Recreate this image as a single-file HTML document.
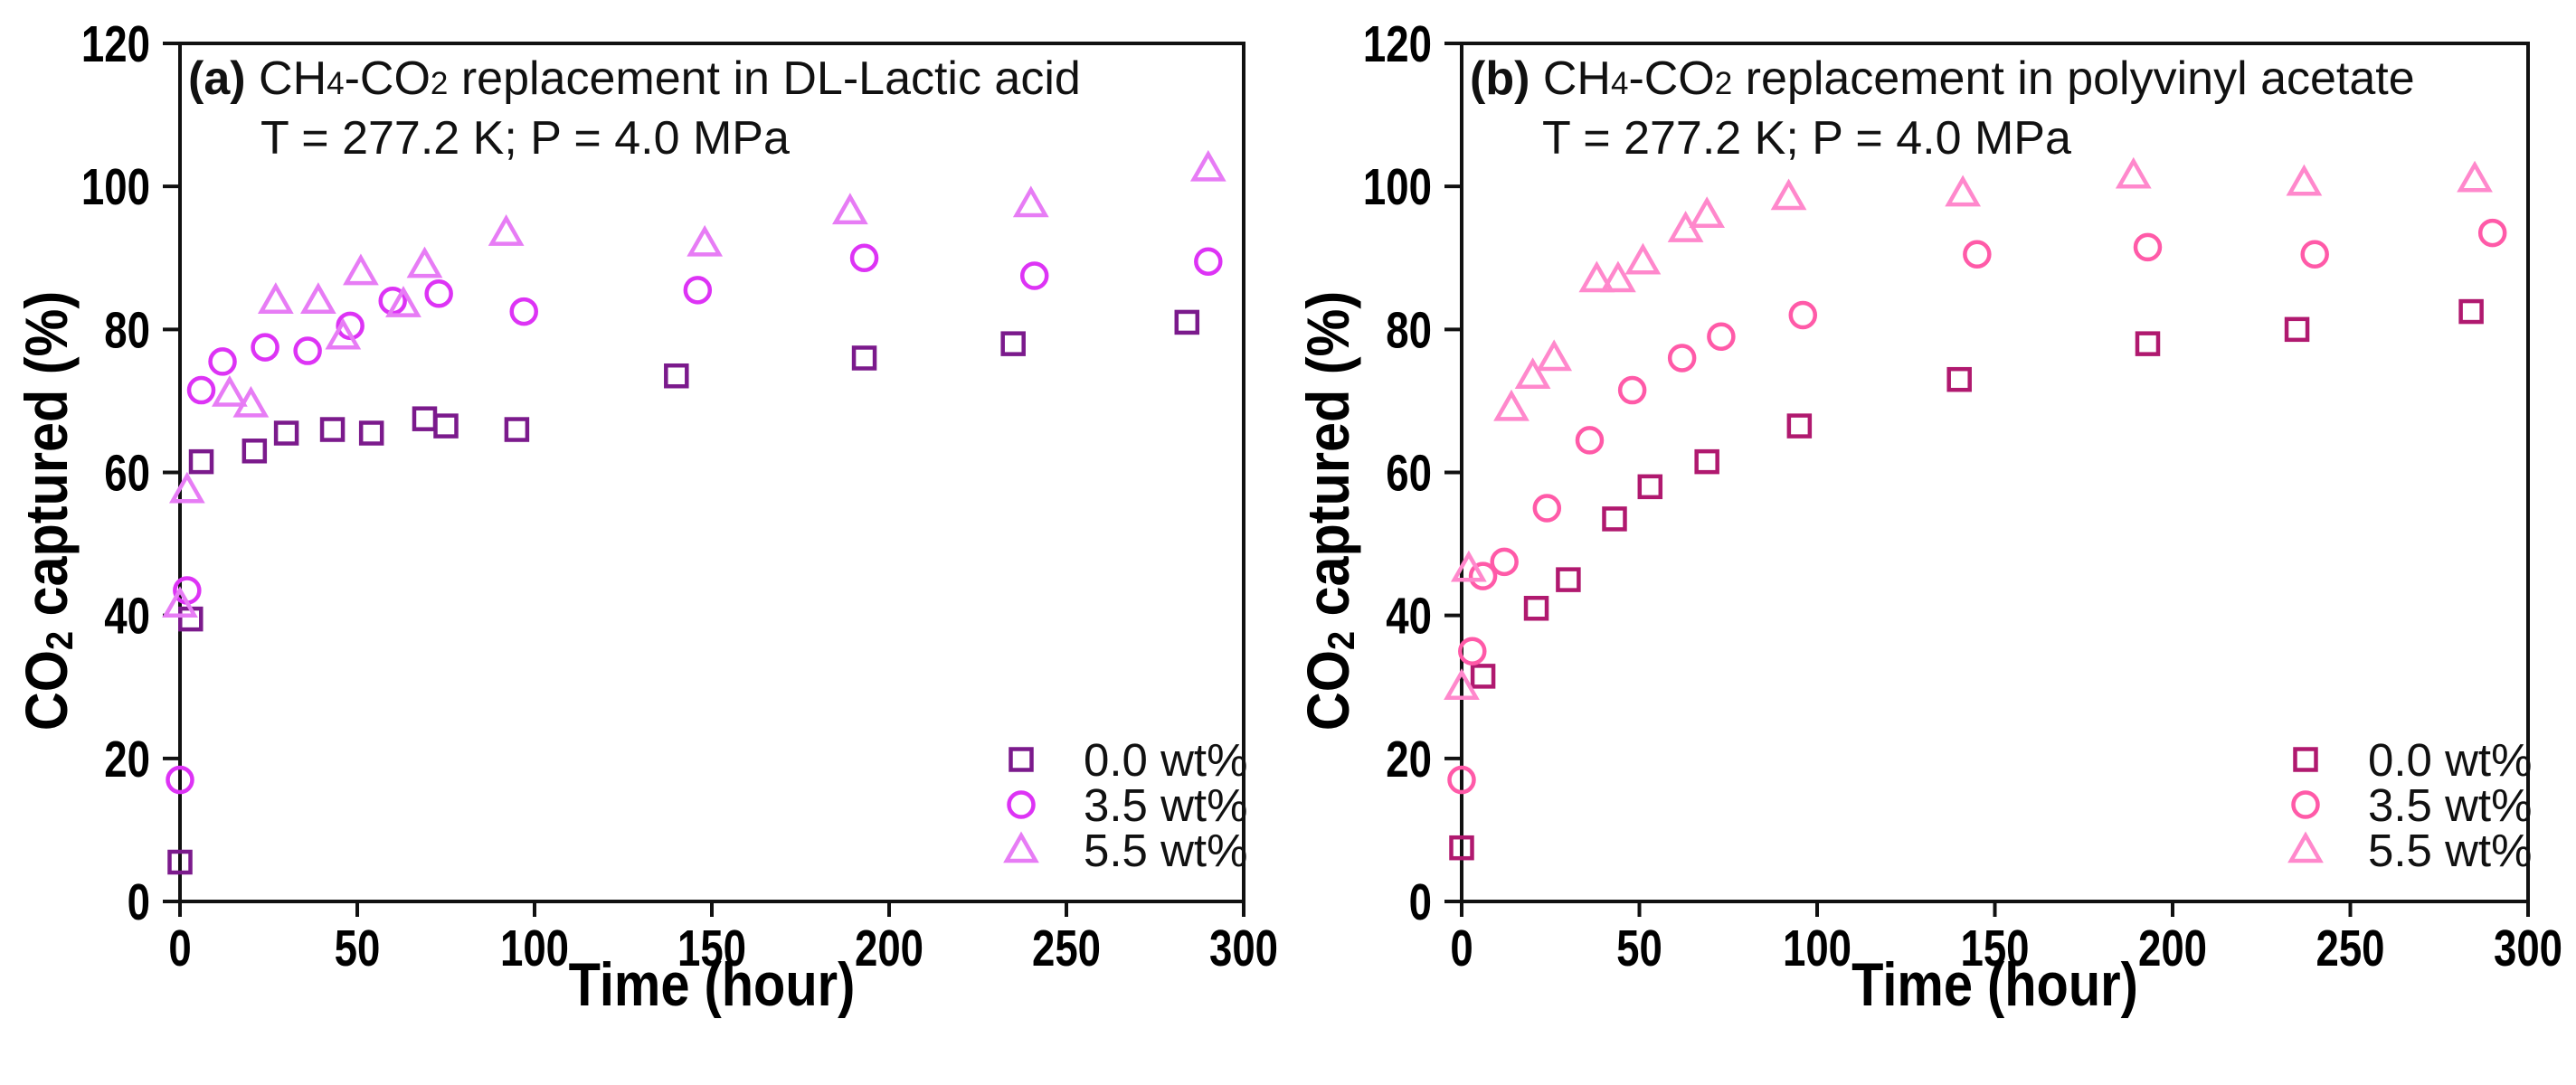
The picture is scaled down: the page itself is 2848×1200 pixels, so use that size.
<!DOCTYPE html>
<html><head><meta charset="utf-8"><style>
html,body{margin:0;padding:0;background:#fff;}
svg{display:block;font-family:"Liberation Sans",Arial,sans-serif;}
</style></head><body>
<svg id="fig" width="2848" height="1200" viewBox="0 0 2848 1200" xmlns="http://www.w3.org/2000/svg"></svg>
<script>
const xTicks=[0,50,100,150,200,250,300];
const yTicks=[0,20,40,60,80,100,120];
const legendLabels=["0.0 wt%","3.5 wt%","5.5 wt%"];
// Panel (a)
const aSqT=[0,3,6,21,30,43,54,69,75,95,140,193,235,284];
const aSqV=[5.5,39.5,61.5,63,65.5,66,65.5,67.5,66.5,66,73.5,76,78,81];
const aCiT=[0,2,6,12,24,36,48,60,73,97,146,193,241,290];
const aCiV=[17,43.5,71.5,75.5,77.5,77,80.5,84,85,82.5,85.5,90,87.5,89.5];
const aTrT=[0,2,14,20,27,39,46,51,63,69,92,148,189,240,290];
const aTrV=[41.5,57.5,71,69.5,84,84,79,88,83.5,89,93.5,92,96.5,97.5,102.5];
// Panel (b)
const bSqT=[0,6,21,30,43,53,69,95,140,193,235,284];
const bSqV=[7.5,31.5,41,45,53.5,58,61.5,66.5,73,78,80,82.5];
const bCiT=[0,3,6,12,24,36,48,62,73,96,145,193,240,290];
const bCiV=[17,35,45.5,47.5,55,64.5,71.5,76,79,82,90.5,91.5,90.5,93.5];
const bTrT=[0,2,14,20,26,38,44,51,63,69,92,141,189,237,285];
const bTrV=[30,46.5,69,73.5,76,87,87,89.5,94,96,98.5,99,101.5,100.5,101];

const NS="http://www.w3.org/2000/svg";
const svg=document.getElementById('fig');
function mk(tag,attrs,parent){const e=document.createElementNS(NS,tag);for(const k in attrs)e.setAttribute(k,attrs[k]);(parent||svg).appendChild(e);return e;}

function marker(g,shape,cx,cy,color){
  let e;
  if(shape==='sq'){e=mk('rect',{x:cx-11.5,y:cy-11.5,width:23,height:23,fill:'none',stroke:color,'stroke-width':4.5},g);}
  else if(shape==='ci'){e=mk('circle',{cx:cx,cy:cy,r:13.5,fill:'none',stroke:color,'stroke-width':4.5},g);}
  else {e=mk('polygon',{points:`${cx},${cy-16} ${cx+16},${cy+12} ${cx-16},${cy+12}`,fill:'none',stroke:color,'stroke-width':4.5,'stroke-linejoin':'miter'},g);}
  return e;
}

function panel(id,x0,x1,letter,title,colors,series){
  const y0=997,y1=48;
  const sx=t=>x0+(t/300)*(x1-x0);
  const sy=v=>y0-(v/120)*(y0-y1);
  const g=mk('g',{});
  
  
  const fr=mk('rect',{x:x0,y:y1,width:x1-x0,height:y0-y1,fill:'none',stroke:'#111','stroke-width':4},g);
  
  
  xTicks.forEach(t=>{
    mk('line',{x1:sx(t),x2:sx(t),y1:y0,y2:y0+17,stroke:'#111','stroke-width':4},g);
    const tx=mk('text',{transform:`translate(${sx(t)},1068) scale(0.8,1)`,'text-anchor':'middle','font-size':57,'font-weight':'bold',fill:'#000'},g);
    tx.textContent=t;
    
    
  });
  yTicks.forEach(v=>{
    mk('line',{x1:x0-19,x2:x0,y1:sy(v),y2:sy(v),stroke:'#111','stroke-width':4},g);
    const ty=mk('text',{transform:`translate(${x0-33},${sy(v)+20}) scale(0.8,1)`,'text-anchor':'end','font-size':57,'font-weight':'bold',fill:'#000'},g);
    ty.textContent=v;
    
    
  });
  const xt=mk('text',{transform:`translate(${(x0+x1)/2},1112) scale(0.85,1)`,'text-anchor':'middle','font-size':68,'font-weight':'bold',fill:'#000'},g);
  xt.textContent='Time (hour)';
  
  
  const yt=mk('text',{x:0,y:0,'text-anchor':'middle','font-size':66,'font-weight':'bold',fill:'#000',transform:`translate(${x0-125},565) rotate(-90) scale(0.9,1)`},g);
  yt.innerHTML='CO<tspan font-size="42" dy="6">2</tspan><tspan dy="-6"> captured (%)</tspan>';
  
  
  const a1=mk('text',{x:x0+9,y:104,'font-size':52,fill:'#111'},g);
  a1.innerHTML=`<tspan font-weight="bold">(${letter})</tspan> CH<tspan font-size="35">4</tspan>-CO<tspan font-size="35">2</tspan> ${title}`;
  
  
  const a2=mk('text',{x:x0+89,y:170,'font-size':52,fill:'#111'},g);
  a2.textContent='T = 277.2 K; P = 4.0 MPa';
  
  
  const shapes=['sq','ci','tr'];
  series.forEach((s,i)=>{
    const sg=mk('g',{},g);
    
    
    s[0].forEach((t,j)=>{
      const m=marker(sg,shapes[i],sx(t),sy(s[1][j]),colors[i]);
      
      
    });
    const ly=840+i*50;
    const lm=marker(g,shapes[i],x1-246,ly,colors[i]);
    
    
    const lt=mk('text',{x:x1-177,y:ly+18,'font-size':51,fill:'#111'},g);
    lt.textContent=legendLabels[i];
    
    
  });
}
panel('a',199,1375,'a','replacement in DL-Lactic acid',['#7b1a8c','#dd33f5','#e77cf5'],[[aSqT,aSqV],[aCiT,aCiV],[aTrT,aTrV]]);
panel('b',1616,2795,'b','replacement in polyvinyl acetate',['#b0196f','#ff5aa8','#ff88cc'],[[bSqT,bSqV],[bCiT,bCiV],[bTrT,bTrV]]);
</script>
</body></html>
